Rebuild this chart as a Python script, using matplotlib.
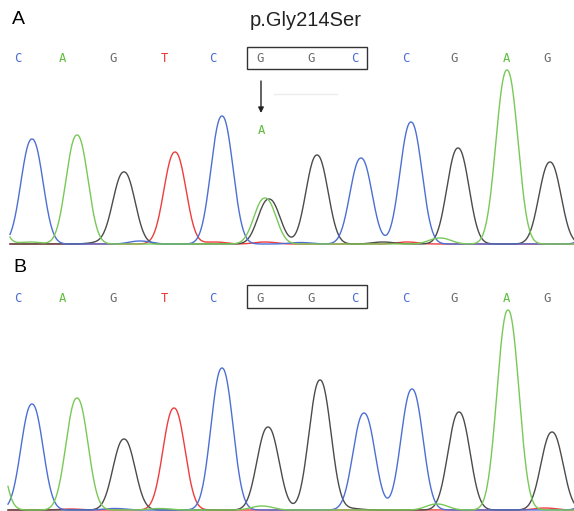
import numpy as np
import matplotlib
matplotlib.use("Agg")
import matplotlib.pyplot as plt
from matplotlib.patches import Rectangle

# ---------------- data ----------------
bases = ['C', 'A', 'G', 'T', 'C', 'G', 'G', 'C', 'C', 'G', 'A', 'G']
base_pos = [18, 62, 113, 164, 213, 260, 311, 355, 406, 454, 506, 547]
mutation_label = 'p.Gly214Ser'
mutant_base = 'A'

# panel A (patient): peaks per channel -> (position, height)
A_peak_channel = ['A', 'C', 'A', 'G', 'T', 'C', 'A', 'G', 'G', 'C', 'C', 'G', 'A', 'G',
                  'C', 'T', 'T', 'A', 'G', 'T', 'C', 'A', 'C', 'G']
A_peak_pos = [-14, 32, 77, 124, 175, 222, 265, 269, 317, 361, 411, 458, 507, 550,
              140, 215, 265, 440, 383, 407, 600, 30, 300, 100]
A_peak_height = [120, 105, 109, 72, 92, 128, 46, 45, 89, 86, 122, 96, 174, 82,
                 3, 2, 2, 6, 2, 2, 40, 2, 1.5, 1.5]

# panel B (control)
B_peak_channel = ['A', 'C', 'A', 'G', 'T', 'C', 'G', 'G', 'C', 'C', 'G', 'A', 'G',
                  'A', 'A', 'T', 'C', 'T', 'C', 'G', 'A']
B_peak_pos = [-10, 32, 77, 124, 174, 222, 268, 320, 364, 412, 459, 508, 552,
              262, 437, 70, 600, 545, 115, 350, 160]
B_peak_height = [110, 106, 112, 71, 102, 142, 83, 130, 97, 121, 98, 200, 78,
                 4, 6, 1, 45, 2, 1.5, 1.5, 1.5]

# ---------------- style ----------------
trace_col = {'C': '#4d6fd4', 'A': '#78c957', 'G': '#4b4b4b', 'T': '#ee3d3d'}
letter_col = {'C': '#4a6cd6', 'A': '#5fbd3d', 'G': '#6a6a6a', 'T': '#f03535'}

W, H = 574, 511
fig = plt.figure(figsize=(W / 100, H / 100), dpi=100)


def shape(x, c, h, s=14.8, p=2.2):
    return h * np.exp(-np.abs((x - c) / s) ** p)


def panel(rect, ylim, chans, pos, hts, x0):
    ax = fig.add_axes(rect)
    ax.set_xlim(0, W)
    ax.set_ylim(*ylim)
    ax.axis('off')
    x = np.linspace(x0, 574, 1200)
    for ch in ['T', 'G', 'C', 'A']:
        y = np.zeros_like(x)
        for c, p, h in zip(chans, pos, hts):
            if c == ch:
                y += shape(x, p, h)
        ax.plot(x, y, color=trace_col[ch], lw=1.0, solid_joinstyle='round')
    return ax


# pixel rows: A 0..250 (baseline 244), B 250..511 (baseline 510)
axA = panel([0, (H - 250) / H, 1, 250 / H], (-6, 244), A_peak_channel, A_peak_pos, A_peak_height, 10)
axB = panel([0, 0, 1, 261 / H], (-1, 260), B_peak_channel, B_peak_pos, B_peak_height, 8)


def letters(ax, ybase, box_lo, box_hi):
    for b, xp in zip(bases, base_pos):
        ax.text(xp, ybase, b, color=letter_col[b], ha='center', va='center',
                family='DejaVu Sans Mono', fontsize=8.8)
    ax.add_patch(Rectangle((247, box_lo), 120, box_hi - box_lo, fill=False,
                           ec='#333333', lw=1.0))


letters(axA, 244 - 59, 244 - 69, 244 - 47)
letters(axB, 510 - 298, 510 - 308, 510 - 285)

axA.text(12, 244 - 20, 'A', fontsize=14, family='Liberation Sans', ha='left', va='center')
axB.text(13, 510 - 268, 'B', fontsize=14, family='Liberation Sans', ha='left', va='center')
axA.text(306, 244 - 21, mutation_label, fontsize=14.5, family='Liberation Sans',
         ha='center', va='center', color='#222222')

# arrow to the mutant call
axA.annotate('', xy=(261, 244 - 113), xytext=(261, 244 - 81),
             arrowprops=dict(arrowstyle='-|>', color='#222222', lw=1.0,
                             mutation_scale=8, shrinkA=0, shrinkB=0))
axA.text(261, 244 - 131, mutant_base, color=letter_col['A'], ha='center', va='center',
         family='DejaVu Sans Mono', fontsize=8.8)
axA.plot([274, 337], [244 - 94, 244 - 94], color='#ececec', lw=1.0)

fig.savefig('out.png', dpi=100)
